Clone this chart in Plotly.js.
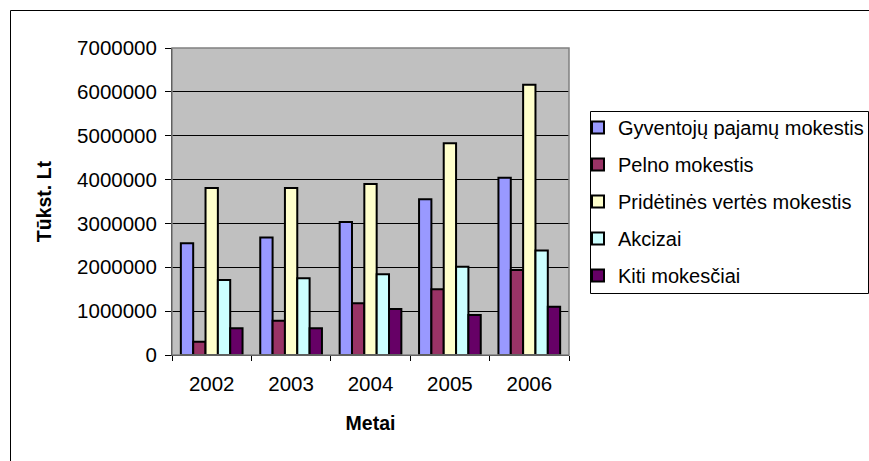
<!DOCTYPE html>
<html>
<head>
<meta charset="utf-8">
<script src="https://cdn.plot.ly/plotly-3.0.1.min.js"></script>
<style>html,body{margin:0;padding:0;background:#fff;overflow:hidden;}#chart{width:869px;height:461px;overflow:hidden;}</style>
</head>
<body>
<div id="chart"></div>
<script>
const years = ['2002', '2003', '2004', '2005', '2006'];
const seriesNames = ['Gyventojų pajamų mokestis', 'Pelno mokestis', 'Pridėtinės vertės mokestis', 'Akcizai', 'Kiti mokesčiai'];
const gyventoju = [2550000, 2680000, 3030000, 3550000, 4040000];
const pelno = [300000, 780000, 1180000, 1500000, 1940000];
const pvm = [3810000, 3810000, 3900000, 4830000, 6160000];
const akcizai = [1710000, 1750000, 1840000, 2010000, 2380000];
const kiti = [610000, 610000, 1050000, 910000, 1100000];
const colors = ['#9999FF', '#993366', '#FFFFCC', '#CCFFFF', '#660066'];

const allValues = [gyventoju, pelno, pvm, akcizai, kiti];
const font = 'Liberation Sans, Arial, sans-serif';

const traces = allValues.map((vals, i) => ({
  type: 'bar',
  name: seriesNames[i],
  x: years,
  y: vals,
  legendgroup: 'g' + i,
  marker: {color: colors[i], line: {color: '#000000', width: 2}},
  hoverinfo: 'x+y+name'
}));

const L = 172, R = 569, T = 48, B = 355, W = 869, H = 461;
const px = v => (v - L) / (R - L);
const py = v => (B - v) / (B - T);

const layout = {
  width: W, height: H,
  margin: {l: L, r: W - R, t: T, b: H - B, pad: 0, autoexpand: false},
  paper_bgcolor: '#ffffff',
  plot_bgcolor: '#C0C0C0',
  font: {family: font, size: 20, color: '#000000'},
  barmode: 'group',
  bargap: 0.223,
  bargroupgap: 0,
  showlegend: true,
  legend: {
    xref: 'container', yref: 'container',
    x: 1, y: 1 - 108 / H, xanchor: 'right', yanchor: 'top',
    bgcolor: 'rgba(0,0,0,0)', bordercolor: '#000000', borderwidth: 0,
    font: {family: font, size: 20, color: '#000000'},
    tracegroupgap: 8,
    itemwidth: 30
  },
  xaxis: {
    type: 'category',
    showline: true, linecolor: '#000000', linewidth: 1,
    ticks: 'outside', ticklen: 5, tickcolor: '#000000', tickson: 'boundaries',
    ticklabelstandoff: 10,
    tickfont: {family: font, size: 20.5},
    showgrid: false,
    title: {text: 'Metai', font: {family: font, size: 19.5, weight: 'bold'}, standoff: 22}
  },
  yaxis: {
    range: [0, 7000000], dtick: 1000000, tick0: 0, tickformat: 'd',
    showline: true, linecolor: '#000000', linewidth: 1,
    ticks: 'outside', ticklen: 6, tickcolor: '#000000',
    ticklabelstandoff: 4,
    showgrid: true, gridcolor: '#000000', gridwidth: 1,
    zeroline: false,
    tickfont: {family: font, size: 20.5},
    title: {text: 'Tūkst. Lt', font: {family: font, size: 19.5, weight: 'bold'}, standoff: 20}
  },
  shapes: [
    {type: 'rect', xref: 'paper', yref: 'paper', x0: 0, x1: 1, y0: 0, y1: 1,
     line: {color: '#808080', width: 1.5}, layer: 'above'},
    {type: 'line', xref: 'paper', yref: 'paper', x0: px(10.5), x1: px(869), y0: py(10.5), y1: py(10.5),
     line: {color: '#000000', width: 1}, layer: 'above'},
    {type: 'line', xref: 'paper', yref: 'paper', x0: px(10.5), x1: px(10.5), y0: py(10.5), y1: py(461),
     line: {color: '#000000', width: 1}, layer: 'above'},
    {type: 'rect', xref: 'paper', yref: 'paper', x0: px(590.5), x1: px(868.5), y0: py(293.5), y1: py(111.5),
     fillcolor: '#ffffff', line: {color: '#000000', width: 1}, layer: 'above'}
  ]
};

Plotly.newPlot('chart', traces, layout, {displayModeBar: false, staticPlot: true});
</script>
</body>
</html>
